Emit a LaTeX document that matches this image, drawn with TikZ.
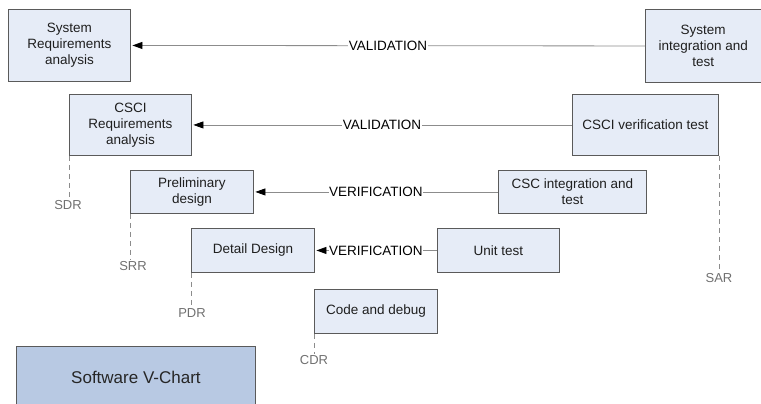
\documentclass[tikz,border=0pt]{standalone}
\usepackage{fontspec}
\setmainfont{Liberation Sans}
\usetikzlibrary{arrows.meta}
\definecolor{boxfill}{HTML}{E6ECF7}
\definecolor{boxline}{HTML}{5A5A5A}
\definecolor{titlefill}{HTML}{B8C9E3}
\definecolor{linkgray}{HTML}{8C8C8C}
\definecolor{msgray}{HTML}{707070}
\tikzset{
  phase/.style={draw=boxline, line width=0.9pt, fill=boxfill, anchor=north west,
    align=center, inner sep=2pt, text=black!88,
    font=\fontsize{13.5}{16.2}\selectfont},
  link/.style={draw=linkgray, line width=0.8pt,
    -{Triangle[length=10pt,width=7pt,fill=black,color=black]}, shorten >=1.5pt},
  linklabel/.style={fill=white, inner sep=0.6pt, text=black,
    font=\fontsize{13.5}{16.2}\selectfont},
  review/.style={draw=linkgray, line width=0.8pt, dash pattern=on 5pt off 4pt},
  milestone/.style={text=msgray, inner sep=1pt, font=\fontsize{13}{15}\selectfont},
}
\begin{document}
\begin{tikzpicture}[x=1pt, y=-1pt]
  \useasboundingbox (0,0) rectangle (761,404);

  % left leg of the V
  \node[phase, minimum width=122pt, minimum height=72pt] (sysreq) at (8,9)
    {System\\Requirements\\analysis};
  \node[phase, minimum width=122pt, minimum height=61pt] (cscireq) at (69,94)
    {CSCI\\Requirements\\analysis};
  \node[phase, minimum width=123pt, minimum height=43pt] (prelim) at (130,170)
    {Preliminary\\design};
  \node[phase, minimum width=123pt, minimum height=44pt] (detail) at (191,228)
    {Detail Design};
  \node[phase, minimum width=123pt, minimum height=44pt] (code) at (314,289)
    {Code and debug};

  % right leg of the V
  \node[phase, minimum width=115.5pt, minimum height=73pt] (sysint) at (645,9)
    {System\\integration and\\test};
  \node[phase, minimum width=146pt, minimum height=61pt] (csciver) at (572,94)
    {CSCI verification test};
  \node[phase, minimum width=148pt, minimum height=43pt] (cscint) at (498,170)
    {CSC integration and\\test};
  \node[phase, minimum width=122pt, minimum height=44pt] (unit) at (437,228)
    {Unit test};

  % title block
  \node[draw=boxline, line width=0.9pt, fill=titlefill, anchor=north west,
    minimum width=239pt, minimum height=62pt, text=black!85,
    font=\fontsize{17}{20}\selectfont] (title) at (16,346) {Software V-Chart};

  % validation / verification links
  \draw[link] (sysint.west) -- node[linklabel] {VALIDATION} (sysreq.east);
  \draw[link] (csciver.west) -- node[linklabel] {VALIDATION} (cscireq.east);
  \draw[link] (cscint.west) -- node[linklabel] {VERIFICATION} (prelim.east);
  \draw[link] (unit.west) -- node[linklabel] {VERIFICATION} (detail.east);

  % review milestones
  \node[milestone] (sdr) at (68,205) {SDR};
  \node[milestone] (srr) at (133,266) {SRR};
  \node[milestone] (pdr) at (192,313) {PDR};
  \node[milestone] (cdr) at (314,360) {CDR};
  \node[milestone] (sar) at (719,278) {SAR};

  \draw[review] (cscireq.south west) -- (cscireq.south west |- sdr.north);
  \draw[review] (prelim.south west) -- (prelim.south west |- srr.north);
  \draw[review] (detail.south west) -- (detail.south west |- pdr.north);
  \draw[review] (code.south west) -- (code.south west |- cdr.north);
  \draw[review] (csciver.south east) -- (csciver.south east |- sar.north);
\end{tikzpicture}
\end{document}
